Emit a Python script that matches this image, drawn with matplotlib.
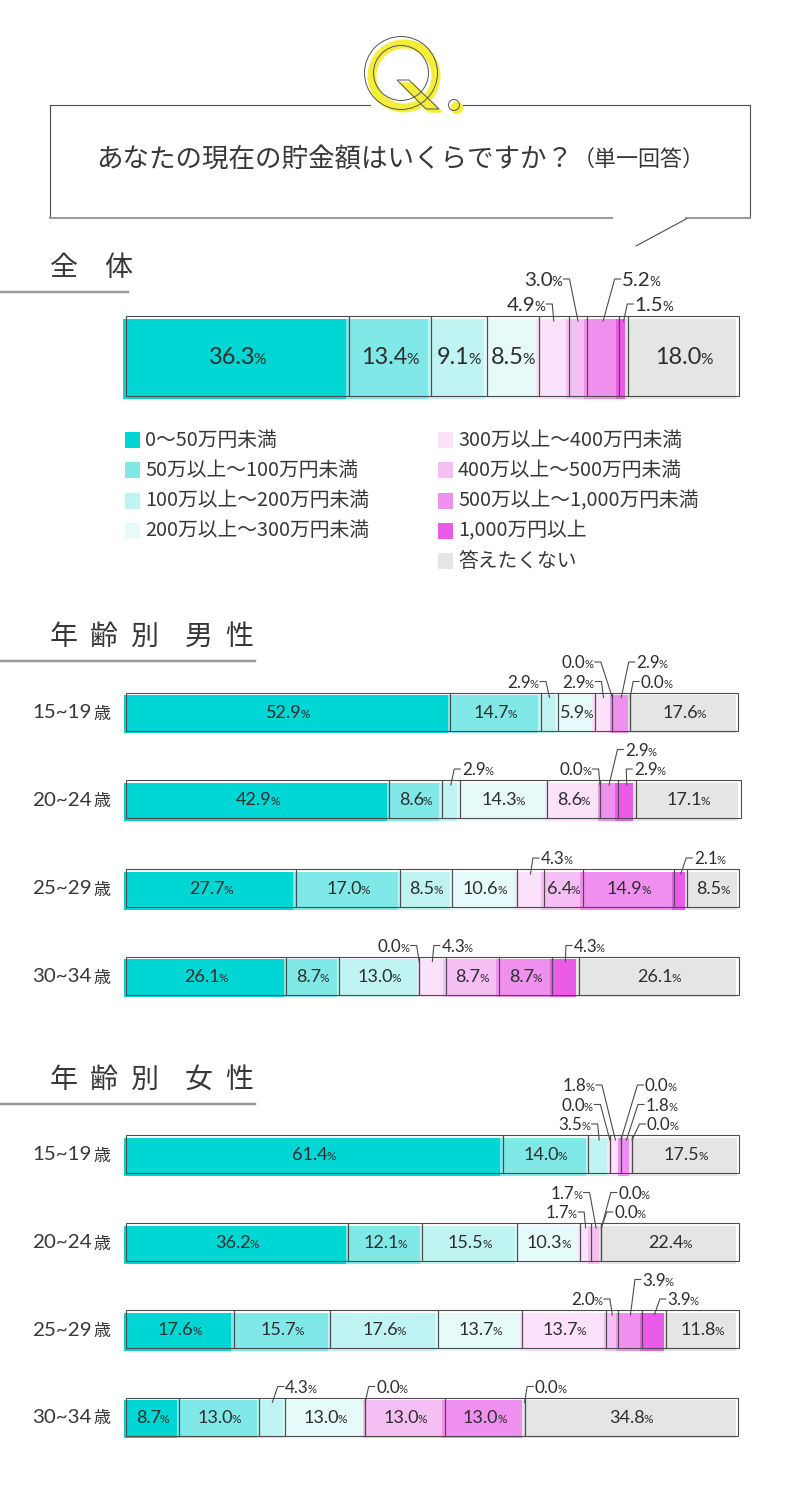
import numpy as np
import matplotlib
matplotlib.use('Agg')
import matplotlib.pyplot as plt
import matplotlib.transforms as mtransforms
from matplotlib.patches import Circle, Polygon, Rectangle
from matplotlib.font_manager import FontProperties

# --- data -------------------------------------------------------------
categories = ['0～50万円未満', '50万以上～100万円未満', '100万以上～200万円未満',
              '200万以上～300万円未満', '300万以上～400万円未満', '400万以上～500万円未満',
              '500万以上～1,000万円未満', '1,000万円以上', '答えたくない']

overall = [36.3, 13.4, 9.1, 8.5, 4.9, 3.0, 5.2, 1.5, 18.0]

age_labels = ['15~19', '20~24', '25~29', '30~34']

male_15_19 = [52.9, 14.7, 2.9, 5.9, 2.9, 0.0, 2.9, 0.0, 17.6]
male_20_24 = [42.9, 8.6, 2.9, 14.3, 8.6, 0.0, 2.9, 2.9, 17.1]
male_25_29 = [27.7, 17.0, 8.5, 10.6, 4.3, 6.4, 14.9, 2.1, 8.5]
male_30_34 = [26.1, 8.7, 13.0, 0.0, 4.3, 8.7, 8.7, 4.3, 26.1]

female_15_19 = [61.4, 14.0, 3.5, 0.0, 1.8, 0.0, 1.8, 0.0, 17.5]
female_20_24 = [36.2, 12.1, 15.5, 10.3, 1.7, 1.7, 0.0, 0.0, 22.4]
female_25_29 = [17.6, 15.7, 17.6, 13.7, 13.7, 2.0, 3.9, 3.9, 11.8]
female_30_34 = [8.7, 13.0, 4.3, 13.0, 0.0, 13.0, 13.0, 0.0, 34.8]

# --- style / layout ---------------------------------------------------
COLORS = ['#00d6d4', '#80e9e7', '#bff4f3', '#e6fafa', '#fbe1fa',
          '#f6bff4', '#f090ee', '#ea5be8', '#e5e5e5']
TXT = '#383838'
NUMC = '#2e2e2e'
EDGE = '#4d4d4d'
GRAY = '#9a9a9a'
YEL = '#f4ee3a'
JP = 'Noto Sans CJK JP'
NUM = 'Lato'
PT = 72 / 100  # px -> pt

# callouts for thin segments: (segment, side, row, distance in px)
callouts_overall = [(4, 'L', 0, 9), (5, 'L', 1, 16), (6, 'R', 1, 19), (7, 'R', 0, 11)]
callouts_male = [
    [(2, 'L', 0, 11), (4, 'L', 0, 9.5), (5, 'L', 1, 19), (6, 'R', 1, 15), (7, 'R', 0, 10.5)],
    [(2, 'R', 0, 11), (5, 'L', 0, 9), (6, 'R', 1, 16), (7, 'R', 0, 7)],
    [(4, 'R', 0, 10), (7, 'R', 0, 13)],
    [(3, 'L', 0, 10), (4, 'R', 0, 9), (7, 'R', 0, 8)],
]
callouts_female = [
    [(2, 'L', 0, 9), (3, 'L', 1, 17), (4, 'L', 2, 21), (5, 'R', 2, 24), (6, 'R', 1, 19), (7, 'R', 0, 15)],
    [(4, 'L', 0, 9), (5, 'L', 1, 14), (6, 'R', 1, 17), (7, 'R', 0, 13)],
    [(5, 'L', 0, 10), (6, 'R', 1, 12), (7, 'R', 0, 13)],
    [(2, 'R', 0, 13), (4, 'R', 0, 11), (7, 'R', 0, 10)],
]

fig = plt.figure(figsize=(8, 14.86), dpi=100)
X0, W = 126, 613.3
bx = fig.add_axes([X0 / 800, 0, W / 800, 1])
bx.axis('off')

ax = fig.add_axes([0, 0, 1, 1])
ax.set_xlim(0, 800)
ax.set_ylim(1486, 0)
ax.axis('off')
ax.set_zorder(3)

renderer = fig.canvas.get_renderer()


def text_w(s, size_px):
    fp = FontProperties(family=NUM, size=size_px * PT)
    return renderer.get_text_width_height_descent(s, fp, ismath=False)[0]


def value_label(x, yc, v, size, anchor='center'):
    s = f'{v:.1f}'
    small = size * 0.66
    gap = -1.2
    ws, wp = text_w(s, size), text_w('%', small)
    total = ws + gap + wp
    left = {'center': x - total / 2, 'left': x, 'right': x - total}[anchor]
    base = yc + 0.72 * size / 2
    ax.text(left, base, s, ha='left', va='baseline', fontsize=size * PT,
            family=NUM, color=NUMC)
    ax.text(left + ws + gap, base, '%', ha='left', va='baseline', fontsize=small * PT,
            family=NUM, color=NUMC)


def to_px(v):
    return bx.transData.transform((v, 0))[0]


def draw_bar(values, top, h, callouts, in_size, co_size, base_off, row_gap, off):
    cum = np.concatenate([[0], np.cumsum(values)[:-1]])
    yc = top + h / 2
    fill_tr = mtransforms.offset_copy(bx.transData, fig=fig, x=-off, y=-off, units='dots')
    bx.barh(yc, values, left=cum, height=h, color=COLORS, edgecolor='none',
            transform=fill_tr, clip_on=False)
    bx.barh(yc, values, left=cum, height=h, fill=False, edgecolor=EDGE,
            linewidth=0.8, clip_on=False)
    bx.set_xlim(0, 100)
    bx.set_ylim(1486, 0)
    called = {c[0] for c in callouts}
    for i, v in enumerate(values):
        if i in called or v <= 0:
            continue
        value_label(to_px(cum[i] + v / 2), yc, v, in_size)
    for seg, side, row, dx in callouts:
        sc = to_px(cum[seg] + values[seg] / 2)
        ty = top - base_off - row_gap * row
        if side == 'L':
            value_label(sc - dx, ty, values[seg], co_size, 'right')
            xe = sc - dx + 1.5
            xt = xe + 6
        else:
            value_label(sc + dx, ty, values[seg], co_size, 'left')
            xe = sc + dx - 1.5
            xt = xe - 6
        ax.plot([xe, xt, sc], [ty, ty, top + 5], color=EDGE, lw=0.8)


# --- Q mark and question box -----------------------------------------
ax.add_patch(Circle((404, 76), 32, fill=False, ec=YEL, lw=9 * PT))
ax.add_patch(Polygon([(400, 83), (412, 83), (442, 112), (429, 112)], color=YEL))
ax.add_patch(Circle((457, 108), 5.5, color=YEL))
for r in (36.5, 27.5):
    ax.add_patch(Circle((401, 73), r, fill=False, ec='#555555', lw=0.7))
ax.add_patch(Polygon([(397, 80), (409, 80), (439, 109), (426, 109)], fill=False,
                     ec='#555555', lw=0.7))
ax.add_patch(Circle((454, 105), 5.5, fill=False, ec='#555555', lw=0.7))

ax.plot([50, 370], [105, 105], color=EDGE, lw=0.8)
ax.plot([463, 750], [105, 105], color=EDGE, lw=0.8)
ax.plot([50, 50], [105, 218], color=EDGE, lw=0.8)
ax.plot([750, 750], [105, 218], color=EDGE, lw=0.8)
ax.plot([50, 612], [218, 218], color=GRAY, lw=2 * PT)
ax.plot([686, 750], [218, 218], color=GRAY, lw=2 * PT)
ax.plot([686, 636], [219, 246], color=EDGE, lw=0.8)

ax.text(96, 160, 'あなたの現在の貯金額はいくらですか？', ha='left', va='center',
        fontsize=26.5 * PT, family=JP, color=TXT)
ax.text(573, 160, '（単一回答）', ha='left', va='center', fontsize=22 * PT,
        family=JP, color=TXT)


# --- section headings --------------------------------------------------
def heading(chars, xs, y, line_end):
    for ch, x in zip(chars, xs):
        ax.text(x, y, ch, ha='left', va='center', fontsize=28 * PT, family=JP, color=TXT)
    ax.plot([0, line_end], [y + 24, y + 24], color=GRAY, lw=2.5 * PT)


heading('全体', [50, 104], 268, 128)
heading('年齢別男性', [50, 90, 130, 185, 225], 637, 255)
heading('年齢別女性', [50, 90, 130, 185, 225], 1080, 255)

# --- overall bar --------------------------------------------------------
draw_bar(overall, 316, 80, callouts_overall, 23.5, 20.5, 12, 25, 3)

# --- legend -------------------------------------------------------------
for i, lab in enumerate(categories):
    col, row = (0, i) if i < 4 else (1, i - 4)
    x = 125 if col == 0 else 438
    y = 440 + 30.3 * row
    ax.add_patch(Rectangle((x, y - 8), 15, 16, color=COLORS[i], lw=0))
    ax.text(x + 20, y, lab, ha='left', va='center', fontsize=19.8 * PT, family=JP, color=TXT)

# --- age bars -----------------------------------------------------------
male = [male_15_19, male_20_24, male_25_29, male_30_34]
female = [female_15_19, female_20_24, female_25_29, female_30_34]
male_tops = [692.5, 780, 869, 956.5]
female_tops = [1135, 1223, 1310, 1397.5]

for rows, tops, calls in ((male, male_tops, callouts_male),
                          (female, female_tops, callouts_female)):
    for vals, top, co, lab in zip(rows, tops, calls, age_labels):
        draw_bar(vals, top, 38, co, 18, 17, 11, 19.5, 2.5)
        ax.text(92, top + 20, lab, ha='right', va='center', fontsize=20.5 * PT,
                family=NUM, color=TXT)
        ax.text(93, top + 21, '歳', ha='left', va='center', fontsize=17 * PT,
                family=JP, color=TXT)

fig.savefig('out.png', dpi=100)
